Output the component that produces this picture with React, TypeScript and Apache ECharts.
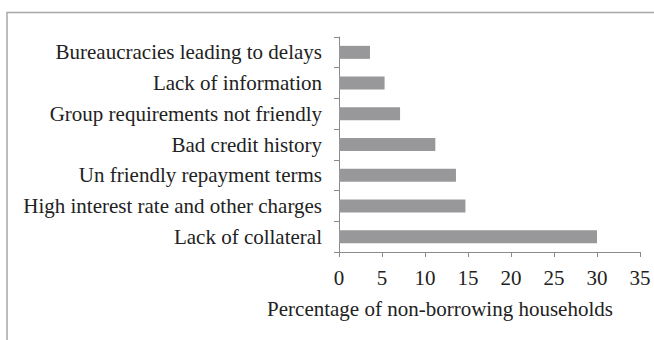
import React, { useEffect, useRef } from "react";
import * as echarts from "echarts";

const categories = [
  "Lack of collateral",
  "High interest rate and other charges",
  "Un friendly repayment terms",
  "Bad credit history",
  "Group requirements not friendly",
  "Lack of information",
  "Bureaucracies leading to delays",
];
const values = [30, 14.7, 13.6, 11.2, 7.1, 5.3, 3.6];
const xTicks = { min: 0, max: 35, interval: 5 };
const axisTitle = "Percentage of non-borrowing households";

const FONT = "Liberation Serif";

export default function App() {
  const ref = useRef<HTMLDivElement>(null);
  useEffect(() => {
    if (!ref.current) return;
    const chart = echarts.init(ref.current, null, { renderer: "svg" });
    chart.setOption({
      animation: false,
      backgroundColor: "#ffffff",
      grid: { left: 339, right: 14, top: 37, bottom: 88, containLabel: false },
      xAxis: {
        type: "value",
        min: xTicks.min,
        max: xTicks.max,
        interval: xTicks.interval,
        axisLine: { show: true, lineStyle: { color: "#8a8a8a", width: 1 } },
        axisTick: { show: true, length: 5, lineStyle: { color: "#8a8a8a" } },
        splitLine: { show: false },
        axisLabel: { color: "#222", fontFamily: FONT, fontSize: 21, margin: 15 },
      },
      yAxis: {
        type: "category",
        data: categories,
        axisLine: { show: true, lineStyle: { color: "#8a8a8a", width: 1 } },
        axisTick: { show: true, length: 5, lineStyle: { color: "#8a8a8a" } },
        axisLabel: { color: "#222", fontFamily: FONT, fontSize: 21, margin: 17 },
      },
      series: [
        {
          type: "bar",
          data: values,
          barWidth: 13,
          itemStyle: { color: "#98989b" },
        },
      ],
      graphic: [
        {
          type: "rect",
          shape: { x: 7, y: 12.5, width: 700, height: 400 },
          style: { fill: "none", stroke: "#a8a8a8", lineWidth: 1.5 },
          silent: true,
        },
        {
          type: "text",
          x: 440,
          y: 309,
          style: {
            text: axisTitle,
            fill: "#222",
            fontFamily: FONT,
            fontSize: 21,
            textAlign: "center",
            textVerticalAlign: "middle",
          },
        },
      ],
    });
    return () => chart.dispose();
  }, []);
  return (
    <div
      ref={ref}
      style={{ position: "fixed", left: 0, top: 0, width: 654, height: 340 }}
    />
  );
}
